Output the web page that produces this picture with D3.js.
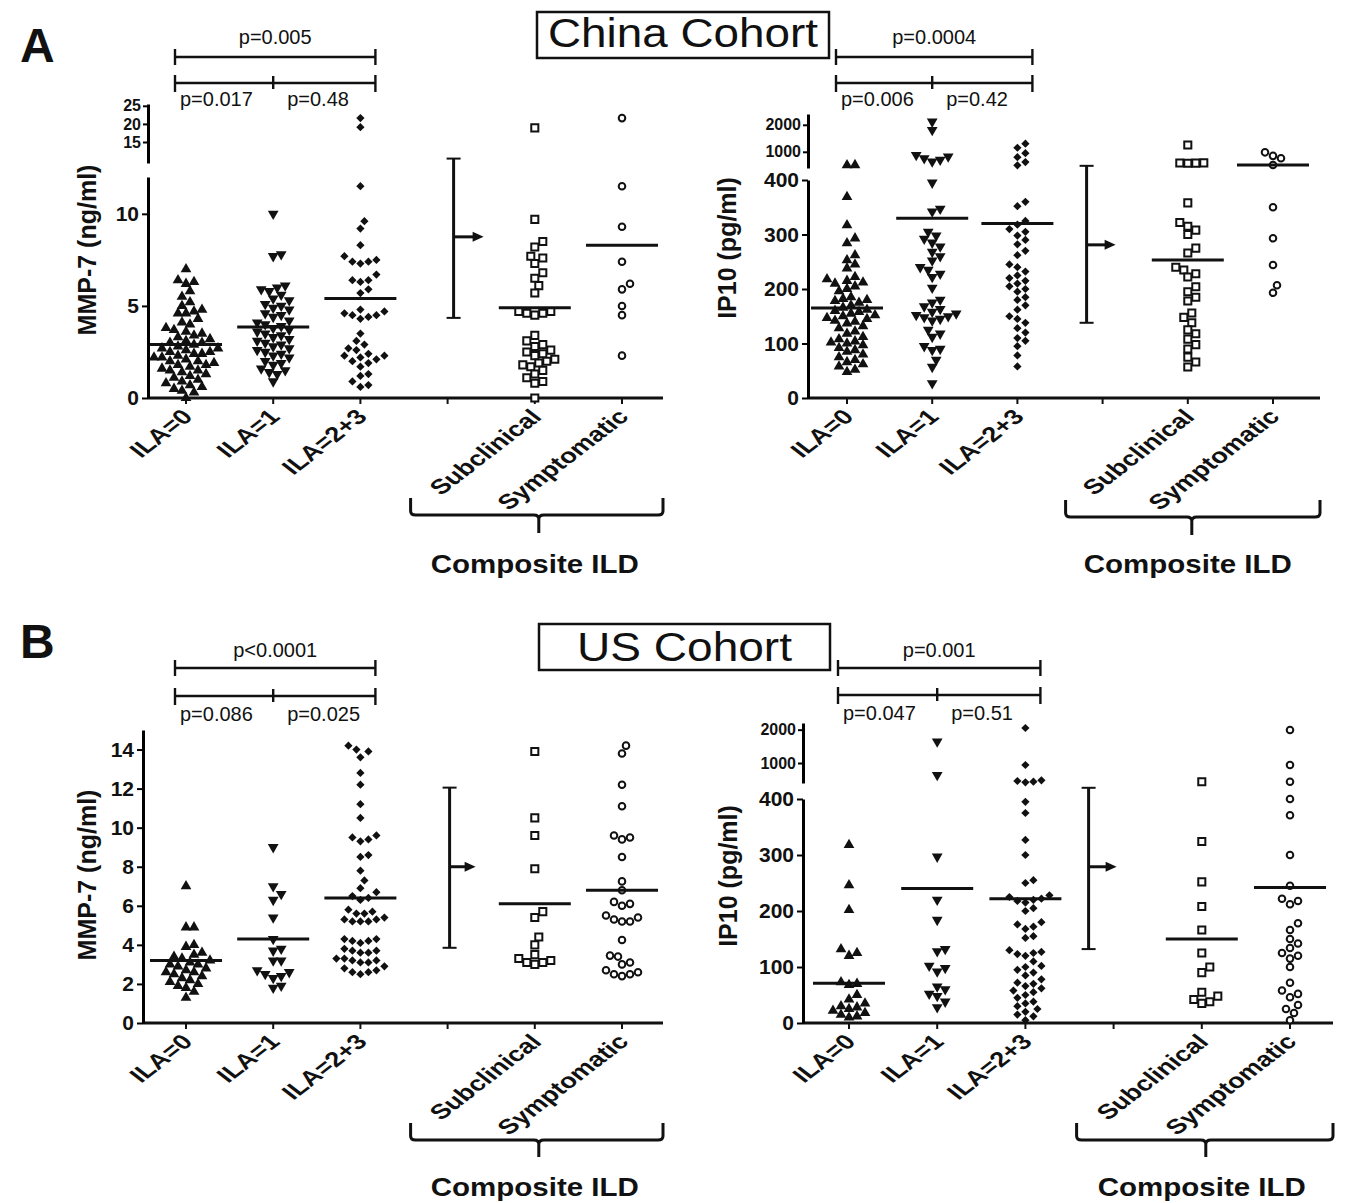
<!DOCTYPE html>
<html>
<head>
<meta charset="utf-8">
<script src="https://cdn.jsdelivr.net/npm/d3@7"></script>
<style>
  body { margin: 0; background: #fff; }
  svg text { font-family: "Liberation Sans", Arial, sans-serif; fill: #111; }
</style>
</head>
<body>
<svg id="fig" width="1345" height="1203"></svg>
<script>
// categories on the x axis (the 4th one is an empty spacer slot)
const groupKeys = ["ila0", "ila1", "ila23", "gap", "sub", "sym"];
const groupLabels = ["ILA=0", "ILA=1", "ILA=2+3", "", "Subclinical", "Symptomatic"];
const groupShapes = ["triUp", "triDown", "diamond", null, "square", "circle"];

// ---- China cohort, MMP-7 (ng/ml)
const chinaMmpIla0 = [7.0, 6.4, 6.3, 6.2, 5.8, 5.5, 5.2, 5.0, 4.8, 4.7, 4.6, 4.6, 4.3, 4.1, 4.0, 3.8, 3.7, 3.6, 3.5, 3.4, 3.3, 3.2, 3.1, 3.0, 3.0, 2.9, 2.8, 2.7, 2.7, 2.6, 2.5, 2.5, 2.4, 2.4, 2.3, 2.2, 2.2, 2.1, 2.0, 2.0, 1.9, 1.8, 1.8, 1.7, 1.6, 1.5, 1.5, 1.4, 1.3, 1.2, 1.1, 1.0, 0.9, 0.8, 0.7, 0.6, 0.5, 0.4, 0.3, 0.0];
const chinaMmpIla1 = [10.0, 7.8, 7.7, 6.1, 6.0, 5.9, 5.8, 5.6, 5.4, 5.3, 5.1, 5.0, 4.9, 4.8, 4.6, 4.5, 4.4, 4.2, 4.1, 4.0, 3.9, 3.8, 3.7, 3.6, 3.5, 3.4, 3.3, 3.2, 3.1, 3.0, 2.9, 2.8, 2.7, 2.6, 2.5, 2.4, 2.3, 2.2, 2.0, 1.9, 1.8, 1.6, 1.5, 1.4, 1.3, 0.9];
const chinaMmpIla23 = [21.6, 19.1, 11.5, 9.6, 9.2, 8.3, 7.7, 7.5, 7.4, 7.4, 7.3, 6.7, 6.4, 6.4, 6.3, 5.9, 5.7, 4.8, 4.7, 4.6, 4.5, 4.5, 4.4, 4.3, 3.5, 3.1, 2.9, 2.7, 2.6, 2.4, 2.3, 2.3, 2.2, 2.1, 2.0, 1.9, 1.7, 1.3, 1.2, 0.9, 0.7, 0.6];
const chinaMmpSub = [18.9, 9.7, 8.5, 8.2, 7.7, 7.6, 7.3, 6.8, 6.5, 6.1, 5.7, 4.7, 4.7, 4.6, 4.6, 4.5, 3.4, 3.1, 2.9, 2.8, 2.6, 2.5, 2.4, 2.3, 2.1, 2.0, 1.9, 1.8, 1.7, 1.5, 1.3, 1.1, 0.9, 0.8, 0.0];
const chinaMmpSym = [21.6, 11.5, 9.3, 7.4, 6.2, 5.9, 5.0, 4.5, 2.3];
const chinaMmpMeans = [2.9, 3.85, 5.4, null, 4.9, 8.3];
const chinaMmpP = ["p=0.005", "p=0.017", "p=0.48"];
const chinaMmpTicks = [0, 5, 10];
const chinaMmpUpTicks = [15, 20, 25];

// ---- China cohort, IP10 (pg/ml)
const chinaIpIla0 = [510, 505, 369, 317, 293, 284, 262, 253, 245, 238, 222, 218, 215, 212, 210, 205, 200, 196, 185, 182, 180, 178, 175, 170, 166, 162, 160, 158, 155, 152, 150, 147, 145, 142, 140, 137, 132, 128, 122, 118, 112, 108, 104, 102, 100, 97, 92, 88, 85, 80, 75, 70, 66, 62, 58, 52, 48];
const chinaIpIla1 = [2115, 1807, 880, 820, 760, 700, 640, 395, 347, 342, 305, 298, 292, 285, 278, 268, 260, 252, 240, 235, 228, 222, 202, 180, 175, 168, 163, 158, 155, 152, 150, 148, 145, 142, 125, 118, 112, 95, 90, 88, 70, 57, 27];
const chinaIpIla23 = [1300, 1150, 950, 800, 620, 500, 360, 352, 325, 318, 310, 305, 298, 290, 282, 270, 262, 245, 240, 232, 225, 220, 215, 210, 205, 200, 195, 185, 180, 170, 162, 150, 145, 138, 128, 120, 110, 105, 95, 78, 58];
const chinaIpSub = [1250, 590, 585, 580, 575, 358, 322, 315, 308, 300, 275, 266, 240, 235, 228, 222, 204, 195, 185, 178, 156, 148, 138, 125, 118, 108, 98, 90, 75, 66, 57];
const chinaIpSym = [980, 850, 760, 510, 350, 293, 244, 207, 193];
const chinaIpMeans = [165, 330, 320, null, 253, 510];
const chinaIpP = ["p=0.0004", "p=0.006", "p=0.42"];
const ipTicks = [0, 100, 200, 300, 400];
const ipUpTicks = [1000, 2000];

// ---- US cohort, MMP-7 (ng/ml)
const usMmpIla0 = [7.0, 4.9, 4.9, 4.0, 3.9, 3.6, 3.5, 3.4, 3.3, 3.2, 3.1, 3.0, 3.0, 2.9, 2.8, 2.7, 2.6, 2.6, 2.5, 2.4, 2.3, 2.2, 2.1, 2.0, 1.9, 1.8, 1.6, 1.3];
const usMmpIla1 = [9.0, 7.0, 6.6, 6.3, 5.4, 4.3, 3.8, 3.7, 3.2, 3.2, 2.7, 2.6, 2.5, 2.4, 2.3, 1.9, 1.8];
const usMmpIla23 = [14.2, 14.0, 13.9, 13.6, 12.8, 12.2, 11.2, 10.5, 9.6, 9.5, 9.4, 9.3, 8.6, 8.5, 7.8, 7.3, 6.9, 6.7, 6.5, 6.4, 6.3, 5.8, 5.7, 5.6, 5.6, 5.4, 5.3, 5.3, 5.2, 5.2, 5.2, 4.3, 4.3, 4.2, 4.2, 4.1, 3.8, 3.7, 3.7, 3.6, 3.6, 3.3, 3.3, 3.2, 3.2, 3.1, 3.1, 2.9, 2.8, 2.7, 2.6, 2.6, 2.5];
const usMmpSub = [13.9, 10.5, 9.6, 7.9, 5.7, 5.4, 4.4, 4.0, 3.5, 3.3, 3.2, 3.1, 3.0, 3.1];
const usMmpSym = [14.2, 13.8, 12.2, 11.1, 9.6, 9.5, 9.4, 8.5, 7.25, 6.8, 6.2, 6.1, 6.0, 5.5, 5.4, 5.3, 5.2, 5.2, 4.25, 3.45, 3.4, 3.1, 3.0, 2.7, 2.6, 2.5, 2.5, 2.4];
const usMmpMeans = [3.2, 4.3, 6.4, null, 6.1, 6.8];
const usMmpP = ["p<0.0001", "p=0.086", "p=0.025"];
const usMmpTicks = [0, 2, 4, 6, 8, 10, 12, 14];

// ---- US cohort, IP10 (pg/ml)
const usIpIla0 = [318, 246, 202, 132, 125, 120, 73, 70, 68, 50, 42, 35, 30, 28, 25, 22, 18, 15, 12, 10];
const usIpIla1 = [1640, 640, 297, 220, 184, 132, 128, 102, 98, 92, 65, 60, 52, 48, 38, 28];
const usIpIla23 = [2050, 940, 480, 460, 440, 420, 395, 375, 327, 300, 255, 250, 228, 225, 222, 220, 218, 215, 205, 200, 180, 176, 172, 168, 155, 152, 130, 127, 125, 123, 120, 110, 102, 100, 95, 90, 85, 78, 72, 70, 66, 62, 58, 55, 50, 45, 38, 35, 30, 25, 20, 15, 12, 5];
const usIpSub = [440, 324, 252, 208, 166, 125, 100, 90, 55, 48, 42, 38, 35];
const usIpSym = [1990, 940, 440, 400, 371, 300, 245, 222, 218, 212, 178, 166, 150, 142, 134, 125, 120, 115, 100, 72, 58, 52, 46, 32, 25, 18, 5];
const usIpMeans = [71, 240, 222, null, 150, 242];
const usIpP = ["p=0.001", "p=0.047", "p=0.51"];

const panels = [
  { series: [chinaMmpIla0, chinaMmpIla1, chinaMmpIla23, [], chinaMmpSub, chinaMmpSym], means: chinaMmpMeans, pvals: chinaMmpP,
    yTitle: "MMP-7 (ng/ml)", ticks: chinaMmpTicks, upTicks: chinaMmpUpTicks,
    centers: [186, 622], axis: [148, 663], y0: 398,
    low: { dom: [0, 12], range: [398, 177] }, up: { dom: [9.2, 25.5], range: [163, 104] },
    bracketY: [57, 83], pLabelY: [44, 106], titlePos: [87, 250],
    bar: { dx: 6, vals: [4.35, 13.0, 8.75], len: 30 }, brace: { y: 515, top: 498, stem: 533, label: 573 } },
  { series: [chinaIpIla0, chinaIpIla1, chinaIpIla23, [], chinaIpSub, chinaIpSym], means: chinaIpMeans, pvals: chinaIpP,
    yTitle: "IP10 (pg/ml)", ticks: ipTicks, upTicks: ipUpTicks,
    centers: [847, 1273], axis: [808, 1320], y0: 398,
    low: { dom: [0, 400], range: [398, 180] }, up: { dom: [400, 2400], range: [168, 114] },
    bracketY: [57, 83], pLabelY: [44, 106], titlePos: [727, 248],
    bar: { dx: -16, vals: [138, 426, 281], len: 29 }, brace: { y: 517, top: 500, stem: 535, label: 573 } },
  { series: [usMmpIla0, usMmpIla1, usMmpIla23, [], usMmpSub, usMmpSym], means: usMmpMeans, pvals: usMmpP,
    yTitle: "MMP-7 (ng/ml)", ticks: usMmpTicks, upTicks: null,
    centers: [186, 622], axis: [143, 663], y0: 1023,
    low: { dom: [0, 15], range: [1023, 730] }, up: null,
    bracketY: [668, 696], pLabelY: [657, 721], titlePos: [87, 875],
    bar: { dx: 2, vals: [3.85, 12.05, 8.0], len: 26 }, brace: { y: 1140, top: 1123, stem: 1157, label: 1196 } },
  { series: [usIpIla0, usIpIla1, usIpIla23, [], usIpSub, usIpSym], means: usIpMeans, pvals: usIpP,
    yTitle: "IP10 (pg/ml)", ticks: ipTicks, upTicks: ipUpTicks,
    centers: [849, 1290], axis: [803, 1333], y0: 1023,
    low: { dom: [0, 400], range: [1023, 799] }, up: { dom: [400, 2200], range: [783, 723] },
    bracketY: [668, 695], pLabelY: [657, 720], titlePos: [728, 876],
    bar: { dx: -25, vals: [132, 420, 279], len: 28 }, brace: { y: 1140, top: 1123, stem: 1157, label: 1196 } }
];

const svg = d3.select("#fig");

// simple beeswarm: put each point at the nearest free horizontal slot
function swarm(ys, cx, minD, step) {
  const placed = [];
  const xs = new Array(ys.length);
  const order = ys.map((y, i) => i).sort((a, b) => ys[b] - ys[a]);
  order.forEach(i => {
    const y = ys[i];
    for (let k = 0; k < 60; k++) {
      const off = k === 0 ? 0 : (k % 2 ? 1 : -1) * Math.ceil(k / 2) * step;
      const x = cx + off;
      if (placed.every(p => (p[0] - x) ** 2 + (p[1] - y) ** 2 >= minD * minD)) {
        xs[i] = x; placed.push([x, y]); return;
      }
    }
    xs[i] = cx;
  });
  return xs;
}

function symbolPath(shape) {
  if (shape === "triUp" || shape === "triDown") return d3.symbol(d3.symbolTriangle, 50)();
  if (shape === "diamond") return d3.symbol(d3.symbolSquare, 34)();
  if (shape === "square") return d3.symbol(d3.symbolSquare, 50)();
  return d3.symbol(d3.symbolCircle, 34)();
}

panels.forEach(p => {
  const g = svg.append("g");
  const x = d3.scalePoint().domain(groupKeys).range(p.centers);
  const lo = d3.scaleLinear().domain(p.low.dom).range(p.low.range);
  const hi = p.up ? d3.scaleLinear().domain(p.up.dom).range(p.up.range) : null;
  const y = v => (hi && v > p.low.dom[1]) ? hi(v) : lo(v);

  // x axis line + ticks
  g.append("line").attr("x1", p.axis[0]).attr("x2", p.axis[1]).attr("y1", p.y0).attr("y2", p.y0)
    .attr("stroke", "#111").attr("stroke-width", 3);
  g.selectAll(".xt").data(groupKeys).join("line")
    .attr("x1", d => x(d)).attr("x2", d => x(d)).attr("y1", p.y0).attr("y2", p.y0 + 6)
    .attr("stroke", "#111").attr("stroke-width", 2);

  // y axis (broken)
  const axLo = g.append("g").attr("transform", `translate(${p.axis[0]},0)`)
    .call(d3.axisLeft(lo).tickValues(p.ticks).tickFormat(d3.format("d")).tickSize(6).tickSizeOuter(0).tickPadding(3));
  axLo.selectAll("text").style("font-size", "21px").style("font-weight", "bold").attr("font-family", null);
  if (hi) {
    const axHi = g.append("g").attr("transform", `translate(${p.axis[0]},0)`)
      .call(d3.axisLeft(hi).tickValues(p.upTicks).tickFormat(d3.format("d")).tickSize(5).tickSizeOuter(0).tickPadding(2));
    axHi.selectAll("text").style("font-size", "16px").style("font-weight", "bold").attr("font-family", null);
    axHi.selectAll(".domain").attr("stroke-width", 3);
    axHi.selectAll(".tick line").attr("stroke-width", 2);
  }
  axLo.selectAll(".domain").attr("stroke-width", 3);
  axLo.selectAll(".tick line").attr("stroke-width", 2);

  // y title
  g.append("text").attr("transform", `translate(${p.titlePos[0] + 9},${p.titlePos[1]}) rotate(-90)`)
    .attr("text-anchor", "middle").style("font-size", "25px").style("font-weight", "bold").text(p.yTitle);

  // category labels
  groupKeys.forEach((k, i) => {
    if (!groupLabels[i]) return;
    g.append("text")
      .attr("transform", `translate(${x(k) + 8},${p.y0 + 20}) scale(1.3,1) rotate(-45)`)
      .attr("text-anchor", "end").style("font-size", "21px").style("font-weight", "bold")
      .text(groupLabels[i]);
  });

  // points
  p.series.forEach((vals, i) => {
    const shape = groupShapes[i];
    if (!shape || !vals.length) return;
    const ys = vals.map(y);
    const xs = swarm(ys, x(groupKeys[i]), 8, 4);
    const open = shape === "square" || shape === "circle";
    const path = symbolPath(shape);
    g.selectAll(null).data(vals).join("path")
      .attr("d", path)
      .attr("transform", (d, j) => `translate(${xs[j]},${ys[j]})` +
        (shape === "triDown" ? " rotate(180)" : shape === "diamond" ? " rotate(45)" : ""))
      .attr("fill", open ? "#fff" : "#111")
      .attr("stroke", open ? "#111" : "none")
      .attr("stroke-width", open ? 2 : 0);
  });

  // mean lines
  g.selectAll(".mean").data(p.means.map((m, i) => ({ m, k: groupKeys[i] })).filter(d => d.m != null))
    .join("line")
    .attr("x1", d => x(d.k) - 36).attr("x2", d => x(d.k) + 36)
    .attr("y1", d => y(d.m)).attr("y2", d => y(d.m))
    .attr("stroke", "#111").attr("stroke-width", 3);

  // significance brackets
  const bx0 = x("ila0") - 11, bx1 = x("ila23") + 15, bm = x("ila1");
  const [ty, sy] = p.bracketY;
  const br = g.append("g").attr("stroke", "#111").attr("stroke-width", 2.4);
  br.append("line").attr("x1", bx0).attr("x2", bx1).attr("y1", ty).attr("y2", ty);
  br.append("line").attr("x1", bx0).attr("x2", bx0).attr("y1", ty - 8).attr("y2", ty + 8);
  br.append("line").attr("x1", bx1).attr("x2", bx1).attr("y1", ty - 8).attr("y2", ty + 8);
  br.append("line").attr("x1", bx0).attr("x2", bx1).attr("y1", sy).attr("y2", sy);
  br.append("line").attr("x1", bx0).attr("x2", bx0).attr("y1", sy - 8).attr("y2", sy + 9);
  br.append("line").attr("x1", bx1).attr("x2", bx1).attr("y1", sy - 8).attr("y2", sy + 9);
  br.append("line").attr("x1", bm).attr("x2", bm).attr("y1", sy - 7).attr("y2", sy + 6);
  g.append("text").attr("x", (bx0 + bx1) / 2).attr("y", p.pLabelY[0]).attr("text-anchor", "middle")
    .style("font-size", "20px").text(p.pvals[0]);
  g.append("text").attr("x", bx0 + 5).attr("y", p.pLabelY[1]).attr("text-anchor", "start")
    .style("font-size", "20px").text(p.pvals[1]);
  g.append("text").attr("x", bm + 14).attr("y", p.pLabelY[1]).attr("text-anchor", "start")
    .style("font-size", "20px").text(p.pvals[2]);

  // range bar with arrow pointing to the composite ILD groups
  const barX = x("gap") + p.bar.dx;
  const [bLo, bHi, bArr] = p.bar.vals.map(v => lo(v));
  const bar = g.append("g").attr("stroke", "#111").attr("stroke-width", 3);
  bar.append("line").attr("x1", barX).attr("x2", barX).attr("y1", bLo).attr("y2", bHi);
  bar.append("line").attr("x1", barX - 7).attr("x2", barX + 7).attr("y1", bLo).attr("y2", bLo).attr("stroke-width", 2);
  bar.append("line").attr("x1", barX - 7).attr("x2", barX + 7).attr("y1", bHi).attr("y2", bHi).attr("stroke-width", 2);
  bar.append("line").attr("x1", barX).attr("x2", barX + p.bar.len - 8).attr("y1", bArr).attr("y2", bArr);
  g.append("path")
    .attr("d", `M${barX + p.bar.len},${bArr} L${barX + p.bar.len - 11},${bArr - 5} L${barX + p.bar.len - 11},${bArr + 5} Z`)
    .attr("fill", "#111");

  // composite ILD brace
  const cx0 = x("gap") - 37, cx1 = p.axis[1], cs = x("sub") + 4, b = p.brace;
  g.append("path")
    .attr("d", `M${cx0},${b.top} L${cx0},${b.y - 4} Q${cx0},${b.y} ${cx0 + 5},${b.y} L${cs - 5},${b.y} Q${cs},${b.y} ${cs},${b.y + 4} L${cs},${b.stem}` +
      ` M${cs},${b.y + 4} Q${cs},${b.y} ${cs + 5},${b.y} L${cx1 - 5},${b.y} Q${cx1},${b.y} ${cx1},${b.y - 4} L${cx1},${b.top}`)
    .attr("fill", "none").attr("stroke", "#111").attr("stroke-width", 3);
  g.append("text").attr("x", cs - 4).attr("y", b.label).attr("text-anchor", "middle")
    .attr("textLength", 208).attr("lengthAdjust", "spacingAndGlyphs")
    .style("font-size", "25px").style("font-weight", "bold").text("Composite ILD");
});

// cohort title boxes and panel letters
const titles = [
  { text: "China Cohort", box: [537, 12, 292, 46], base: 47, len: 270, letter: "A", ly: 62 },
  { text: "US Cohort", box: [539, 624, 291, 46], base: 661, len: 215, letter: "B", ly: 658 }
];
titles.forEach(t => {
  svg.append("rect").attr("x", t.box[0]).attr("y", t.box[1]).attr("width", t.box[2]).attr("height", t.box[3])
    .attr("fill", "#fff").attr("stroke", "#111").attr("stroke-width", 2.5);
  svg.append("text").attr("x", t.box[0] + t.box[2] / 2).attr("y", t.base).attr("text-anchor", "middle")
    .attr("textLength", t.len).attr("lengthAdjust", "spacingAndGlyphs")
    .style("font-size", "40px").text(t.text);
  svg.append("text").attr("x", 20).attr("y", t.ly).style("font-size", "48px").style("font-weight", "bold").text(t.letter);
});
</script>
</body>
</html>
